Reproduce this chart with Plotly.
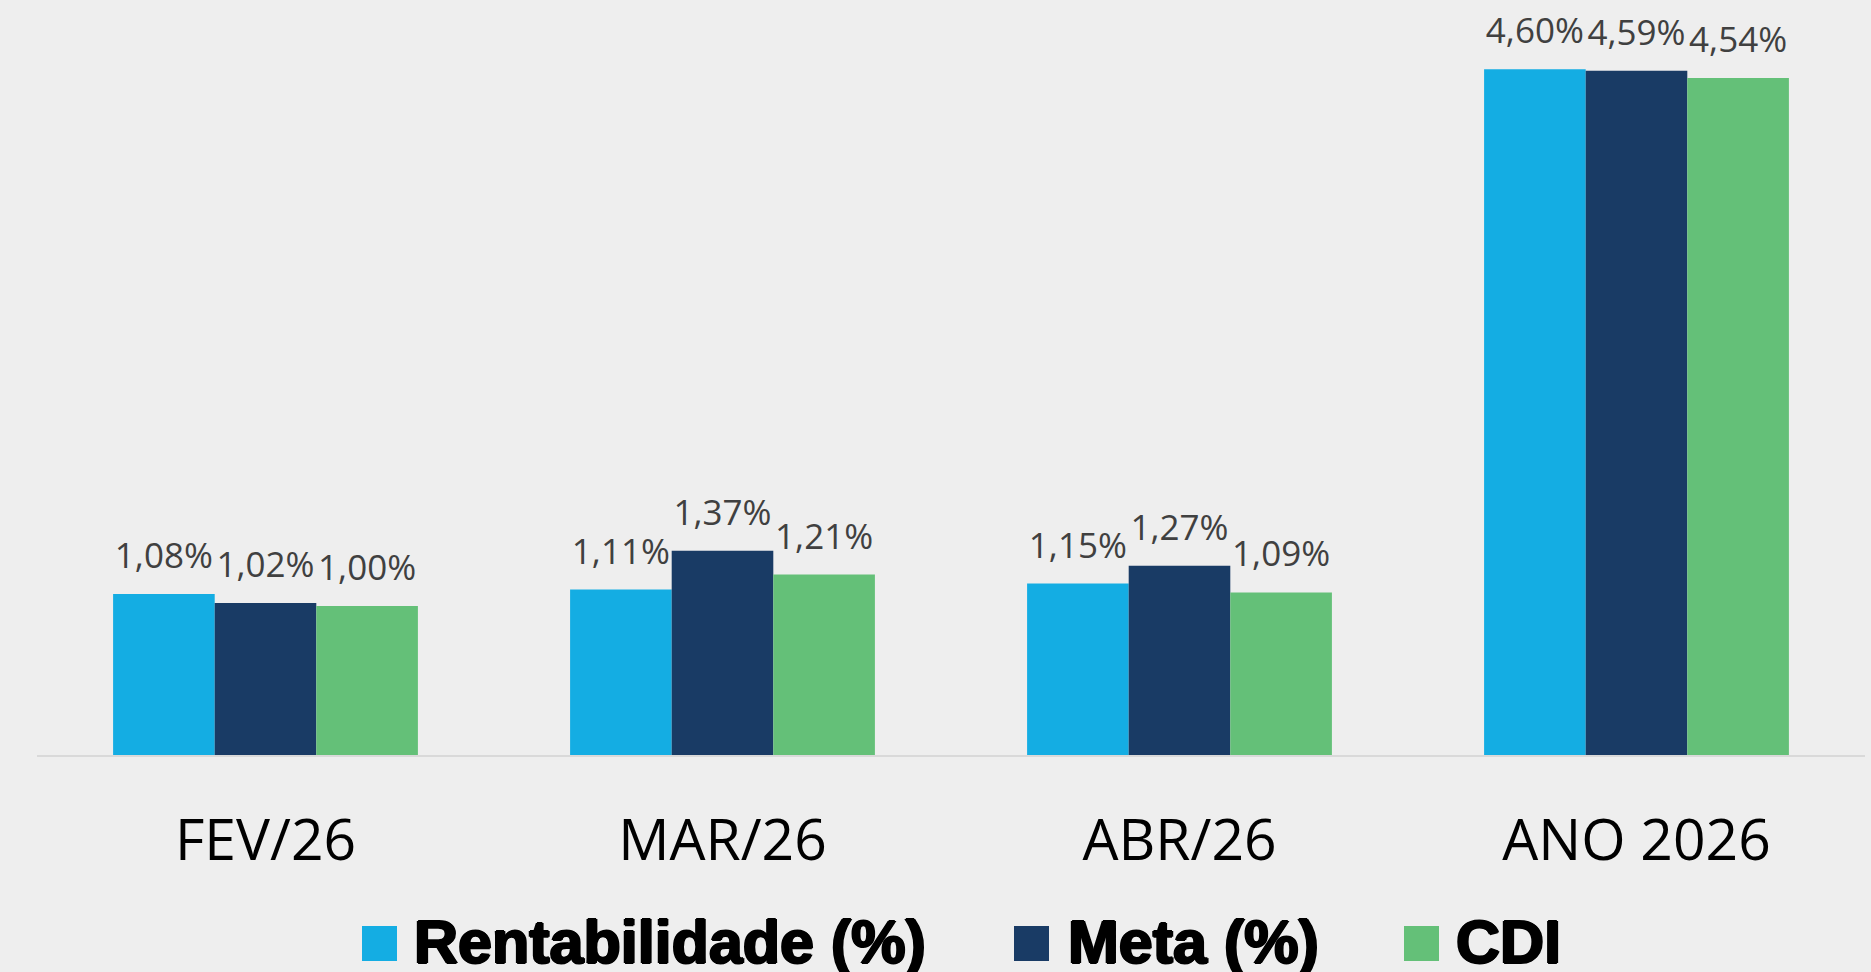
import plotly.graph_objects as go

categories = ["FEV/26", "MAR/26", "ABR/26", "ANO 2026"]
series_names = ["Rentabilidade (%)", "Meta (%)", "CDI"]
rentabilidade = [1.08, 1.11, 1.15, 4.60]
meta = [1.02, 1.37, 1.27, 4.59]
cdi = [1.00, 1.21, 1.09, 4.54]
colors = ["#14ADE3", "#193B65", "#64C078"]

series_values = [rentabilidade, meta, cdi]


def fmt(v):
    return f"{v:.2f}".replace(".", ",") + "%"


fig = go.Figure()
for name, vals, col in zip(series_names, series_values, colors):
    fig.add_trace(go.Bar(
        x=categories, y=vals, name=name, marker=dict(color=col, line=dict(width=0)),
        showlegend=False, hoverinfo="skip",
    ))
for name, vals, col in zip(series_names, series_values, colors):
    fig.add_trace(go.Scatter(
        x=categories, y=vals, name=name + " label", mode="markers+text",
        marker=dict(size=26, opacity=0, color=col),
        text=[fmt(v) for v in vals], textposition="top center",
        textfont=dict(family="Open Sans", size=35, color="#404040"),
        showlegend=False, hoverinfo="skip", cliponaxis=False,
    ))

H = 972
mt, mb = 20, 217
plot_h = H - mt - mb
px_per_unit = 149.1
ymax = plot_h / px_per_unit

fig.update_layout(
    width=1871, height=H,
    margin=dict(l=37, r=6, t=mt, b=mb),
    paper_bgcolor="#eeeeee", plot_bgcolor="rgba(0,0,0,0)",
    barmode="group", bargap=0.333, bargroupgap=0,
    scattermode="group", scattergap=0.333,
    showlegend=False,
    xaxis=dict(
        showgrid=False, zeroline=False, showline=True, linecolor="#d9d9d9", linewidth=2,
        ticks="", tickfont=dict(family="Open Sans", size=57, color="#000000"),
        ticklabelstandoff=35,
    ),
    yaxis=dict(range=[0, ymax], visible=False, showgrid=False, zeroline=False),
)

# custom legend (large swatches)
def xp(px):
    return (px - 37) / 1828


def yp(py):
    return (H - mb - py) / plot_h


legend_x = [(362, 414), (1014, 1068), (1404, 1456)]
for (sx, tx), name, col in zip(legend_x, series_names, colors):
    fig.add_shape(type="rect", xref="paper", yref="paper",
                  x0=xp(sx), x1=xp(sx + 35), y0=yp(926), y1=yp(961),
                  fillcolor=col, line=dict(width=0))
    fig.add_annotation(xref="paper", yref="paper", x=xp(tx - 2), y=yp(942),
                       xanchor="left", yanchor="middle", showarrow=False,
                       text=f"<b>{name}</b>",
                       font=dict(family="Liberation Sans", size=61, color="#000000",
                                 shadow="1.2px 0 0 #000, -1.2px 0 0 #000, 0 1px 0 #000, 0 -1px 0 #000"))

fig.write_html("out.html", config={"displayModeBar": False},
               post_script="document.body.style.margin='0';document.body.style.background='#eeeeee';")
